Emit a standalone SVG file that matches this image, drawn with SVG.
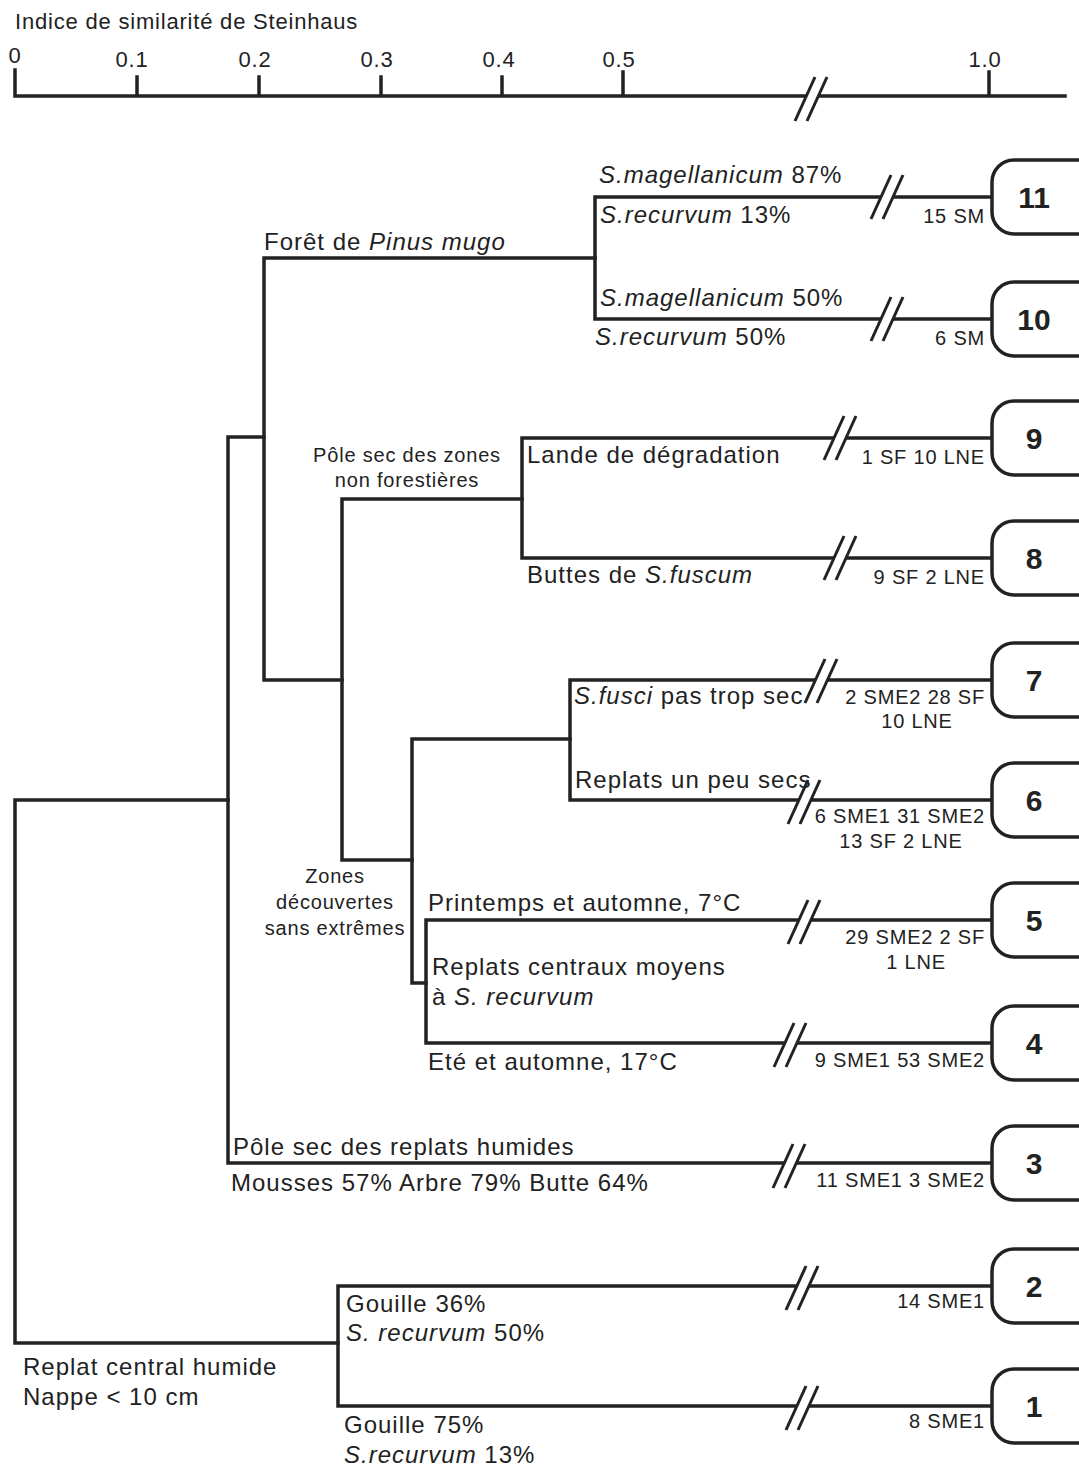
<svg xmlns="http://www.w3.org/2000/svg" xmlns:xlink="http://www.w3.org/1999/xlink" width="1079" height="1468" viewBox="0 0 1079 1468">
<style>
.ln{stroke:#222;stroke-width:3.5;fill:none;stroke-linecap:square;stroke-linejoin:miter}
.sl{stroke:#222;stroke-width:3;fill:none}
.t{font-family:"Liberation Sans",Arial,Helvetica,sans-serif;font-size:24px;letter-spacing:1px;fill:#222}
.s{font-size:20px;letter-spacing:0.8px}
.ax{font-size:22px;letter-spacing:0.8px}
.i{font-style:italic}
.m{text-anchor:middle}
.e{text-anchor:end}
.box{fill:#fff;stroke:#222;stroke-width:3.5}
.n{font-family:"Liberation Sans",Arial,Helvetica,sans-serif;font-size:30px;font-weight:bold;text-anchor:middle;fill:#222}
</style>
<defs>
<g id="brk">
<polygon points="-16,22 4,-22 14,-22 -6,22" fill="#fff"/>
<line class="sl" x1="-17" y1="22" x2="3" y2="-22"/>
<line class="sl" x1="-5" y1="22" x2="15" y2="-22"/>
</g>
</defs>
<rect width="1079" height="1468" fill="#fff"/>

<g id="axis">
<text class="t ax" x="15" y="29">Indice de similarité de Steinhaus</text>
<path class="ln" d="M15,96 H1065 M15,70 V96 M137,77 V96 M259,77 V96 M381,77 V96 M502,77 V96 M623,72 V96 M989,72 V96"/>
<use xlink:href="#brk" href="#brk" transform="translate(812,99)"/>
<text class="t ax m" x="15" y="63">0</text>
<text class="t ax m" x="132" y="67">0.1</text>
<text class="t ax m" x="255" y="67">0.2</text>
<text class="t ax m" x="377" y="67">0.3</text>
<text class="t ax m" x="499" y="67">0.4</text>
<text class="t ax m" x="619" y="67">0.5</text>
<text class="t ax m" x="985" y="67">1.0</text>
</g>

<g id="connectors">
<path class="ln" d="M228,800 H15 V1343 H338"/>
<path class="ln" d="M264,437 H228 V1163 H992"/>
<path class="ln" d="M595,258 H264 V680 H342"/>
<path class="ln" d="M992,197 H595 V319 H992"/>
<path class="ln" d="M522,499 H342 V860 H412"/>
<path class="ln" d="M992,438 H522 V558 H992"/>
<path class="ln" d="M570,739 H412 V983 H426"/>
<path class="ln" d="M992,680 H570 V800 H992"/>
<path class="ln" d="M992,920 H426 V1043 H992"/>
<path class="ln" d="M992,1286 H338 V1406 H992"/>
<use href="#brk" transform="translate(888,197)"/>
<use href="#brk" transform="translate(888,319)"/>
<use href="#brk" transform="translate(841,438)"/>
<use href="#brk" transform="translate(841,558)"/>
<use href="#brk" transform="translate(822,681)"/>
<use href="#brk" transform="translate(805,802)"/>
<use href="#brk" transform="translate(805,922)"/>
<use href="#brk" transform="translate(791,1045)"/>
<use href="#brk" transform="translate(790,1166)"/>
<use href="#brk" transform="translate(803,1288)"/>
<use href="#brk" transform="translate(803,1408)"/>
</g>

<g id="labels">
<text class="t" x="599" y="183"><tspan class="i">S.magellanicum</tspan> 87%</text>
<text class="t" x="600" y="223"><tspan class="i">S.recurvum</tspan> 13%</text>
<text class="t" x="264" y="250">Forêt de <tspan class="i">Pinus mugo</tspan></text>
<text class="t" x="600" y="306"><tspan class="i">S.magellanicum</tspan> 50%</text>
<text class="t" x="595" y="345"><tspan class="i">S.recurvum</tspan> 50%</text>
<text class="t s m" x="407" y="462">Pôle sec des zones</text>
<text class="t s m" x="407" y="487">non forestières</text>
<text class="t" x="527" y="463">Lande de dégradation</text>
<text class="t" x="527" y="583">Buttes de <tspan class="i">S.fuscum</tspan></text>
<text class="t" x="574" y="704"><tspan class="i">S.fusci</tspan> pas trop sec</text>
<text class="t" x="575" y="788">Replats un peu secs</text>
<text class="t s m" x="335" y="883">Zones</text>
<text class="t s m" x="335" y="909">découvertes</text>
<text class="t s m" x="335" y="935">sans extrêmes</text>
<text class="t" x="428" y="911">Printemps et automne, 7°C</text>
<text class="t" x="432" y="975">Replats centraux moyens</text>
<text class="t" x="432" y="1005">à <tspan class="i">S. recurvum</tspan></text>
<text class="t" x="428" y="1070">Eté et automne, 17°C</text>
<text class="t" x="233" y="1155">Pôle sec des replats humides</text>
<text class="t" x="231" y="1191">Mousses 57% Arbre 79% Butte 64%</text>
<text class="t" x="346" y="1312">Gouille 36%</text>
<text class="t" x="346" y="1341"><tspan class="i">S. recurvum</tspan> 50%</text>
<text class="t" x="23" y="1375">Replat central humide</text>
<text class="t" x="23" y="1405">Nappe &lt; 10 cm</text>
<text class="t" x="344" y="1433">Gouille 75%</text>
<text class="t" x="344" y="1463"><tspan class="i">S.recurvum</tspan> 13%</text>

<text class="t s e" x="985" y="223">15 SM</text>
<text class="t s e" x="985" y="345">6 SM</text>
<text class="t s e" x="985" y="464">1 SF 10 LNE</text>
<text class="t s e" x="985" y="584">9 SF 2 LNE</text>
<text class="t s e" x="985" y="704">2 SME2 28 SF</text>
<text class="t s m" x="917" y="728">10 LNE</text>
<text class="t s e" x="985" y="823">6 SME1 31 SME2</text>
<text class="t s m" x="901" y="848">13 SF 2 LNE</text>
<text class="t s e" x="985" y="944">29 SME2 2 SF</text>
<text class="t s m" x="916" y="969">1 LNE</text>
<text class="t s e" x="985" y="1067">9 SME1 53 SME2</text>
<text class="t s e" x="985" y="1187">11 SME1 3 SME2</text>
<text class="t s e" x="985" y="1308">14 SME1</text>
<text class="t s e" x="985" y="1428">8 SME1</text>
</g>

<g id="node11"><rect class="box" x="992" y="160" width="130" height="74" rx="22"/><text class="n" x="1034" y="208">11</text></g>
<g id="node10"><rect class="box" x="992" y="282" width="130" height="74" rx="22"/><text class="n" x="1034" y="330">10</text></g>
<g id="node9"><rect class="box" x="992" y="401" width="130" height="74" rx="22"/><text class="n" x="1034" y="449">9</text></g>
<g id="node8"><rect class="box" x="992" y="521" width="130" height="74" rx="22"/><text class="n" x="1034" y="569">8</text></g>
<g id="node7"><rect class="box" x="992" y="643" width="130" height="74" rx="22"/><text class="n" x="1034" y="691">7</text></g>
<g id="node6"><rect class="box" x="992" y="763" width="130" height="74" rx="22"/><text class="n" x="1034" y="811">6</text></g>
<g id="node5"><rect class="box" x="992" y="883" width="130" height="74" rx="22"/><text class="n" x="1034" y="931">5</text></g>
<g id="node4"><rect class="box" x="992" y="1006" width="130" height="74" rx="22"/><text class="n" x="1034" y="1054">4</text></g>
<g id="node3"><rect class="box" x="992" y="1126" width="130" height="74" rx="22"/><text class="n" x="1034" y="1174">3</text></g>
<g id="node2"><rect class="box" x="992" y="1249" width="130" height="74" rx="22"/><text class="n" x="1034" y="1297">2</text></g>
<g id="node1"><rect class="box" x="992" y="1369" width="130" height="74" rx="22"/><text class="n" x="1034" y="1417">1</text></g>
</svg>
